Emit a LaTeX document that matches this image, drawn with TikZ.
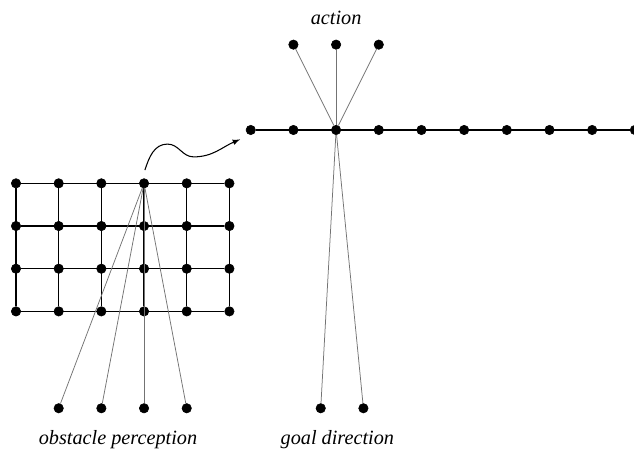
\documentclass[tikz,border=0pt]{standalone}
\usepackage{fontspec}
\setmainfont{Liberation Serif}
\begin{document}
\begin{tikzpicture}[
      dotNode/.style={circle,fill,draw,inner sep=0pt,minimum size=0.22cm},
      gridLine/.style={black,line width=0.75pt},
      fanLine/.style={black!55,line width=0.5pt},
      labelText/.style={anchor=base,font=\fontsize{13.5}{16}\selectfont\itshape},
    ]
    \useasboundingbox (-0.375,-3.227) rectangle (14.48,7.296);

    % perception grid
    \foreach \i in {0,...,5}
      \foreach \j in {0,...,3}
        \node[dotNode] (g-\i-\j) at (\i,\j) {};
    \foreach \i in {0,...,5}
      \draw[gridLine] (g-\i-0) -- (g-\i-3);
    \foreach \j in {0,...,3}
      \draw[gridLine] (g-0-\j) -- (g-5-\j);

    % row of units
    \foreach \k in {0,...,9}
      \node[dotNode] (t-\k) at (5.5+\k,4.25) {};
    \draw[gridLine] (t-0) -- (t-9);

    % action units
    \node[dotNode] (a-0) at (6.5, 6.25) {};
    \node[dotNode] (a-1) at (7.5, 6.25) {};
    \node[dotNode] (a-2) at (8.5, 6.25) {};
    \foreach \k in {0,1,2}
      \draw[fanLine] (t-2) -- (a-\k);

    % goal direction units
    \node[dotNode] (d-0) at (7.14, -2.27) {};
    \node[dotNode] (d-1) at (8.14, -2.27) {};
    \draw[fanLine] (t-2) -- (d-0);
    \draw[fanLine] (t-2) -- (d-1);

    % obstacle perception units
    \foreach \k in {0,...,3} {
      \node[dotNode] (o-\k) at (1+\k, -2.27) {};
      \draw[fanLine] (g-3-3) -- (o-\k);
    }

    % curved arrow
    \coordinate (arrStart) at (3.02, 3.31);
    \coordinate (arrEnd) at (5.25, 4.03);
    \draw[-latex,line width=0.7pt] (arrStart) to[out=72,in=180] (3.55,3.92)
      to[out=0,in=180] (4.16,3.62) to[out=0,in=203] (arrEnd);

    \node[labelText] (actLabel) at (7.5, 6.73) {action};
    \node[labelText] (obsLabel) at (2.39, -3.11) {obstacle perception};
    \node[labelText] (goalLabel) at (7.53, -3.11) {goal direction};

\end{tikzpicture}
\end{document}
